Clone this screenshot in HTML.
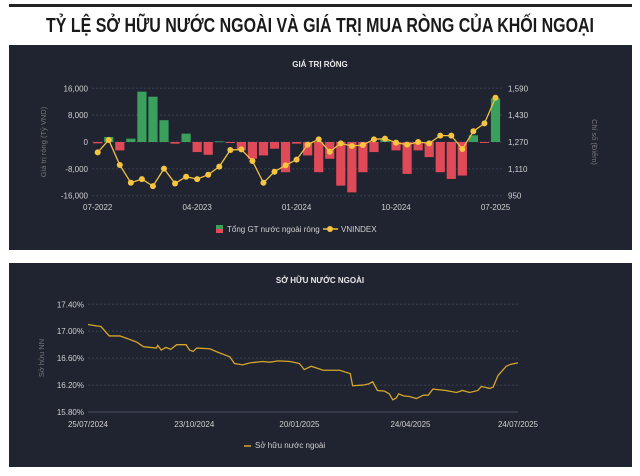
<!DOCTYPE html>
<html><head><meta charset="utf-8"><style>
html,body{margin:0;padding:0;background:#fff;width:640px;height:476px;overflow:hidden}
svg{display:block;font-family:"Liberation Sans",sans-serif}
</style></head><body>
<svg id="root" width="640" height="476" viewBox="0 0 640 476">
<rect x="9" y="4" width="623" height="3" fill="#222"/>
<text x="320" y="32" text-anchor="middle" font-size="20" font-weight="bold" fill="#1a1a1a" textLength="548" lengthAdjust="spacingAndGlyphs">TỶ LỆ SỞ HỮU NƯỚC NGOÀI VÀ GIÁ TRỊ MUA RÒNG CỦA KHỐI NGOẠI</text>
<rect x="9" y="45" width="623" height="205" fill="#1f2430"/>
<rect x="9" y="263" width="623" height="204" fill="#1f2430"/>
<text x="320" y="67" text-anchor="middle" font-size="8" font-weight="bold" fill="#e8e8e8">GIÁ TRỊ RÒNG</text>
<text x="320" y="283" text-anchor="middle" font-size="8" font-weight="bold" fill="#e8e8e8">SỞ HỮU NƯỚC NGOÀI</text>
<g id="c1"></g><g id="c2"></g>
</svg>
<script>
const months=["07-2022","08-2022","09-2022","10-2022","11-2022","12-2022","01-2023","02-2023","03-2023","04-2023","05-2023","06-2023","07-2023","08-2023","09-2023","10-2023","11-2023","12-2023","01-2024","02-2024","03-2024","04-2024","05-2024","06-2024","07-2024","08-2024","09-2024","10-2024","11-2024","12-2024","01-2025","02-2025","03-2025","04-2025","05-2025","06-2025","07-2025"];
const netValues=[-400,1500,-2500,1000,15000,13500,6500,-500,2500,-3000,-3800,200,-300,-2500,-5000,-4000,-2000,-9000,-500,-4000,-9000,-5000,-13000,-15000,-9000,-3000,800,-2500,-9500,-2500,-4500,-9000,-11000,-10000,2000,-300,13000];
const vnindex=[1208,1282,1133,1027,1049,1007,1111,1023,1063,1049,1075,1123,1222,1226,1157,1027,1093,1131,1165,1254,1286,1212,1262,1246,1252,1286,1290,1266,1254,1270,1262,1308,1308,1228,1334,1381,1534];
const leftTicks=[16000,8000,0,-8000,-16000];
const leftTickLabels=["16,000","8,000","0","-8,000","-16,000"];
const rightTicks=[1590,1430,1270,1110,950];
const rightTickLabels=["1,590","1,430","1,270","1,110","950"];
const xTickIdx=[0,9,18,27,36];
const ownDays=[0,7,11,18,27,35,41,47,58,59,62,66,70,75,83,86,89,92,103,111,120,124,131,137,148,154,161,171,179,183,189,199,213,222,224,233,238,241,245,251,255,258,261,263,267,272,278,284,288,292,303,312,317,323,330,333,340,343,347,351,354,358,364];
const ownValues=[17.10,17.08,17.07,16.93,16.93,16.88,16.84,16.77,16.75,16.79,16.72,16.76,16.73,16.80,16.80,16.72,16.70,16.75,16.74,16.68,16.62,16.52,16.50,16.53,16.55,16.54,16.56,16.55,16.52,16.43,16.48,16.42,16.42,16.37,16.19,16.20,16.22,16.25,16.12,16.11,16.07,15.98,16.01,16.07,16.04,16.03,16.00,16.05,16.05,16.14,16.12,16.09,16.12,16.09,16.12,16.18,16.15,16.17,16.34,16.42,16.48,16.51,16.53];
const ownTicks=[17.4,17.0,16.6,16.2,15.8];
const ownTickLabels=["17.40%","17.00%","16.60%","16.20%","15.80%"];
const ownXDays=[0,90,179,273,364];
const ownXLabels=["25/07/2024","23/10/2024","20/01/2025","24/04/2025","24/07/2025"];

const NS="http://www.w3.org/2000/svg";
function mk(p,tag,at,txt){const e=document.createElementNS(NS,tag);for(const k in at)e.setAttribute(k,at[k]);if(txt!==undefined)e.textContent=txt;p.appendChild(e);return e;}

// Chart 1
const c1=document.getElementById('c1');
const x0=97.7,step=11.05,yT=88.3,yB=195.7;
const xs=i=>x0+i*step;
const yL=v=>yT+(16000-v)/32000*(yB-yT);
const yR=v=>yT+(1590-v)/640*(yB-yT);
leftTicks.forEach((t,i)=>{
  const g=mk(c1,'line',{x1:92,x2:502,y1:yL(t),y2:yL(t),stroke:'#3a4050','stroke-dasharray':'2,2'});
  
  
  const l=mk(c1,'text',{x:88,y:yL(t)+3,'text-anchor':'end','font-size':8,fill:'#d0d0d0'},leftTickLabels[i]);
  
  
});
rightTicks.forEach((t,i)=>{
  const l=mk(c1,'text',{x:508,y:yR(t)+3,'font-size':8,fill:'#d0d0d0'},rightTickLabels[i]);
  
  
});
xTickIdx.forEach(i=>{
  const l=mk(c1,'text',{x:xs(i),y:210,'text-anchor':'middle','font-size':8,fill:'#d0d0d0'},months[i]);
  
  
});
let t=mk(c1,'text',{x:46,y:142,'text-anchor':'middle','font-size':7.5,fill:'#777',transform:'rotate(-90 46 142)'},'Giá trị ròng (Tỷ VND)');

t=mk(c1,'text',{x:592,y:142,'text-anchor':'middle','font-size':7.5,fill:'#777',transform:'rotate(90 592 142)'},'Chỉ số (Điểm)');

netValues.forEach((v,i)=>{
  const y0=yL(0),y1=yL(v);
  const r=mk(c1,'rect',{x:xs(i)-4.6,y:Math.min(y0,y1),width:9.2,height:Math.max(0.8,Math.abs(y1-y0)),fill:v>=0?'#3aa05c':'#e04a58'});
  
  
});
const pts=vnindex.map((v,i)=>xs(i)+','+yR(v)).join(' ');
const pl=mk(c1,'polyline',{points:pts,fill:'none',stroke:'#f0c040','stroke-width':1.3});


vnindex.forEach((v,i)=>{
  const c=mk(c1,'circle',{cx:xs(i),cy:yR(v),r:3,fill:'#f5c542'});
  
  
});
let lg=mk(c1,'rect',{x:216,y:225,width:7,height:8,fill:'#3aa05c'});

lg=mk(c1,'rect',{x:216,y:229,width:7,height:4,fill:'#e04a58'});

lg=mk(c1,'text',{x:227,y:232,'font-size':8,fill:'#d0d0d0'},'Tổng GT nước ngoài ròng');

lg=mk(c1,'line',{x1:323,x2:338,y1:229,y2:229,stroke:'#f0c040','stroke-width':1.5});

lg=mk(c1,'circle',{cx:330,cy:229,r:3,fill:'#f5c542'});

lg=mk(c1,'text',{x:341,y:232,'font-size':8,fill:'#d0d0d0'},'VNINDEX');


// Chart 2
const c2=document.getElementById('c2');
const px0=88,px1=518,py0=304.3,py1=412;
const ox=d=>px0+d/364*(px1-px0);
const oy=v=>py0+(17.4-v)/1.6*(py1-py0);
ownTicks.forEach((tk,i)=>{
  const g=mk(c2,'line',{x1:px0,x2:px1,y1:oy(tk),y2:oy(tk),stroke:i==4?'#4a5060':'#3a4050','stroke-dasharray':i==4?'':'2,2'});
  
  
  const l=mk(c2,'text',{x:84,y:oy(tk)+3,'text-anchor':'end','font-size':8,fill:'#d0d0d0'},ownTickLabels[i]);
  
  
});
ownXDays.forEach((d,i)=>{
  const l=mk(c2,'text',{x:ox(d),y:427,'text-anchor':'middle','font-size':8,fill:'#d0d0d0'},ownXLabels[i]);
  
  
});
t=mk(c2,'text',{x:44,y:358,'text-anchor':'middle','font-size':7.5,fill:'#777',transform:'rotate(-90 44 358)'},'Sở hữu NN');

const op=mk(c2,'polyline',{points:ownDays.map((d,i)=>ox(d)+','+oy(ownValues[i])).join(' '),fill:'none',stroke:'#d4a52a','stroke-width':1.3});


lg=mk(c2,'line',{x1:244,x2:251,y1:446,y2:446,stroke:'#d4a52a','stroke-width':1.5});

lg=mk(c2,'text',{x:255,y:448,'font-size':8,fill:'#d0d0d0'},'Sở hữu nước ngoài');

</script>
</body></html>
